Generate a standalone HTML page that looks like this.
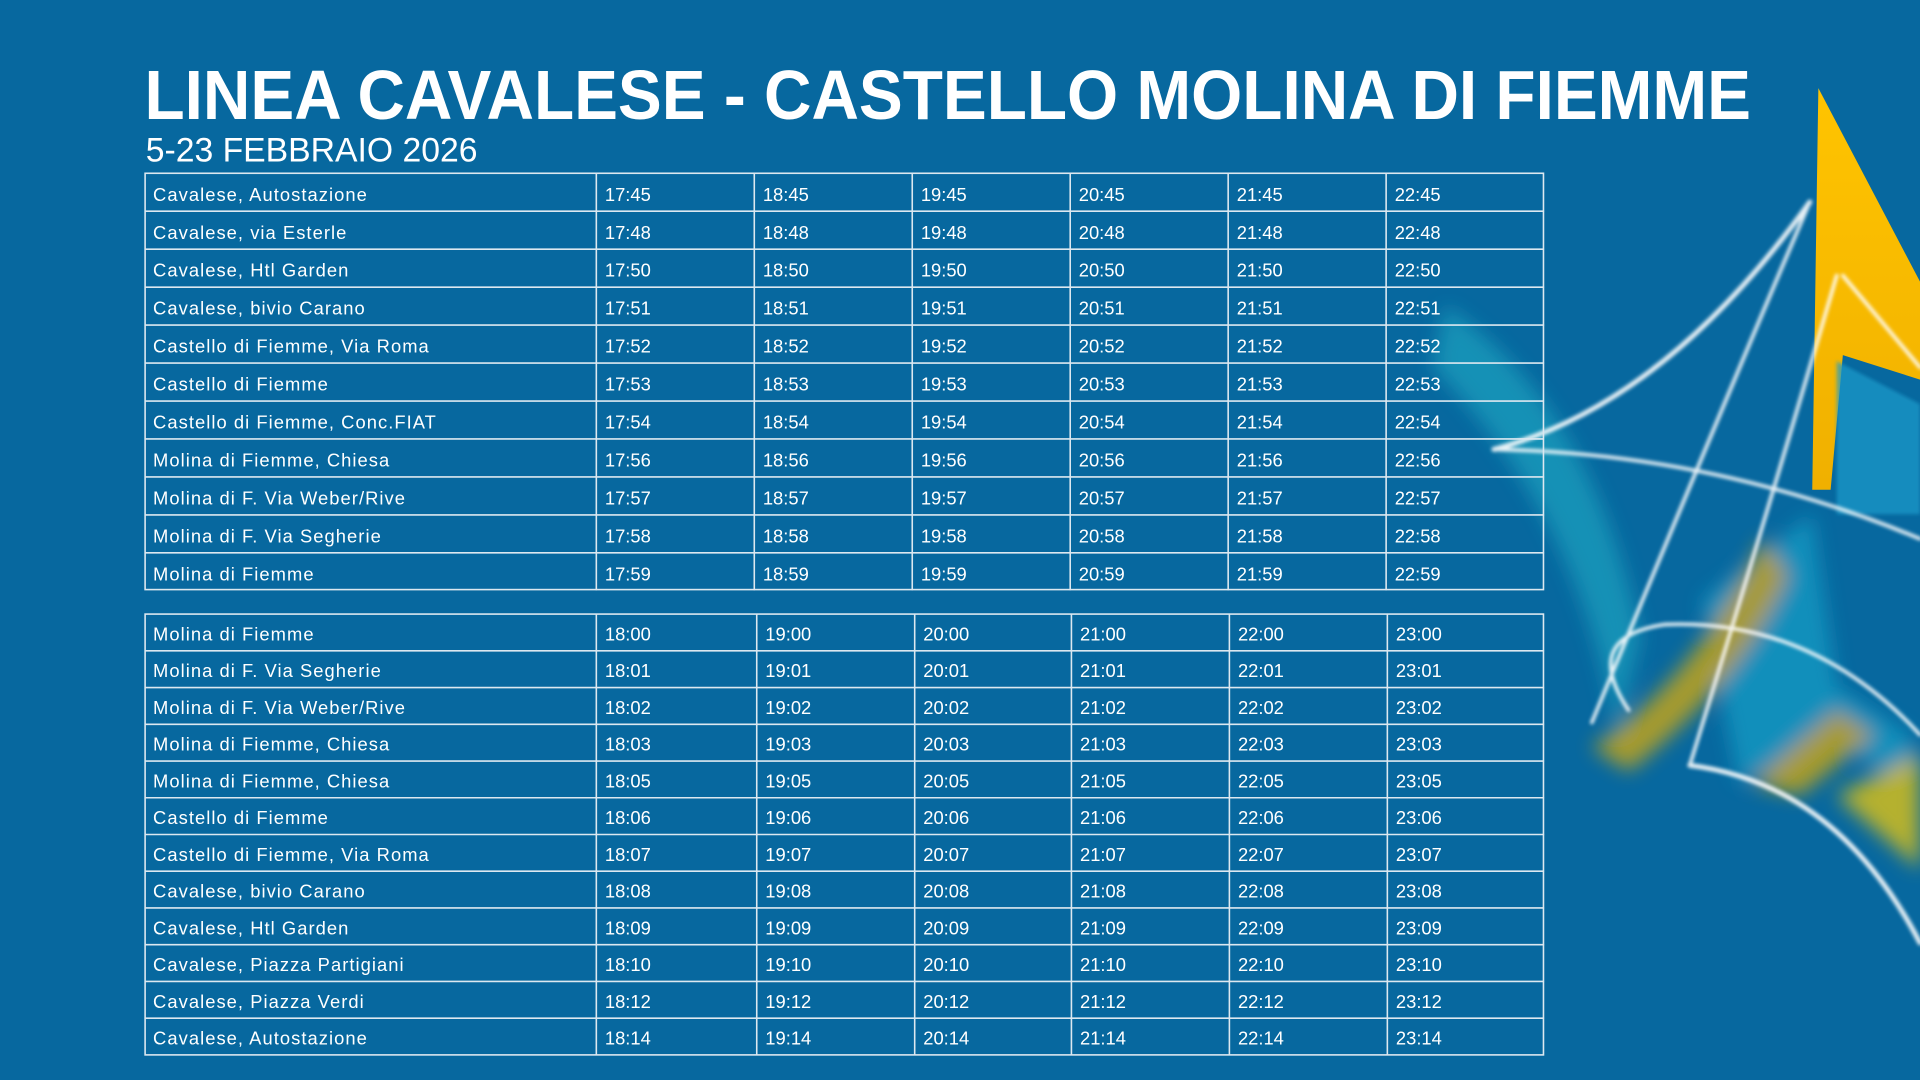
<!DOCTYPE html>
<html><head><meta charset="utf-8"><style>
html,body{margin:0;padding:0;width:1920px;height:1080px;overflow:hidden;background:#07689f}
svg{display:block}
text{font-family:"Liberation Sans",sans-serif;fill:#fff}
.t{font-size:15px}
text[x="125"]{letter-spacing:0.85px}
</style></head><body>
<svg width="1920" height="1080" viewBox="0 0 1568 882" preserveAspectRatio="none">
<defs>
<filter id="b"><feGaussianBlur stdDeviation="8"/></filter>
<filter id="b2"><feGaussianBlur stdDeviation="1.5"/></filter>
<linearGradient id="y" x1="0" y1="0" x2="0" y2="1"><stop offset="0" stop-color="#ffc400"/><stop offset="1" stop-color="#f0b000"/></linearGradient>
</defs>
<rect width="1568" height="882" fill="#07689f"/>
<g filter="url(#b)" opacity="0.7">
<path d="M1180 250 Q1300 330 1340 520 L1320 600 Q1290 420 1170 300Z" fill="#1aa3c0"/>
<path d="M1390 490 L1480 420 L1500 560 L1560 600 L1568 650 L1490 600 L1420 640Z" fill="#15a0c8"/>
<path d="M1300 610 Q1380 560 1440 440 L1460 470 Q1420 560 1330 630Z" fill="#e8b000"/>
<path d="M1430 640 L1500 580 L1530 600 L1470 650Z" fill="#e8b000"/>
<path d="M1500 650 L1568 615 L1568 710 Z" fill="#ffd000"/>
</g>
<path d="M1485 72 L1568 230 L1568 310 L1505 290 L1495 400 L1480 400Z" fill="url(#y)"/>
<path d="M1500 295 L1568 330 L1568 420 L1500 420Z" fill="#1a9ccc" opacity="0.7" filter="url(#b2)"/>
<g fill="none" stroke="#fff" stroke-linecap="round" filter="url(#b2)" opacity="0.9">
<path d="M1220 367 Q1360 330 1478 165" stroke-width="4"/>
<path d="M1478 165 Q1420 300 1300 590" stroke-width="3"/>
<path d="M1220 367 Q1400 370 1568 440" stroke-width="3"/>
<path d="M1500 225 Q1440 430 1380 625" stroke-width="3"/>
<path d="M1380 625 Q1500 640 1568 770" stroke-width="4"/>
<path d="M1330 580 Q1290 520 1360 510 Q1480 505 1568 600" stroke-width="3"/>
<path d="M1505 225 L1568 300" stroke-width="3"/>
</g>
<text x="118" y="97" font-size="57" font-weight="bold" textLength="1312" lengthAdjust="spacingAndGlyphs">LINEA CAVALESE - CASTELLO MOLINA DI FIEMME</text>
<text x="119" y="132" font-size="28" textLength="271" lengthAdjust="spacingAndGlyphs">5-23 FEBBRAIO 2026</text>
<g fill="none" stroke="#dce8f0" stroke-width="1.3">
<rect x="118.5" y="141.5" width="1142" height="340"/>
<path d="M487 141V482M616 141V482M745 141V482M874 141V482M1003 141V482M1132 141V482"/>
<path d="M118 172.5H1261M118 203.5H1261M118 234.5H1261M118 265.5H1261M118 296.5H1261M118 327.5H1261M118 358.5H1261M118 389.5H1261M118 420.5H1261M118 451.5H1261"/>
<rect x="118.5" y="501.5" width="1142" height="360"/>
<path d="M487 501V862M618 501V862M747 501V862M875 501V862M1004 501V862M1133 501V862"/>
<path d="M118 531.5H1261M118 561.5H1261M118 591.5H1261M118 621.5H1261M118 651.5H1261M118 681.5H1261M118 711.5H1261M118 741.5H1261M118 771.5H1261M118 801.5H1261M118 831.5H1261"/>
</g>
<g class="t">
<text class="t" x="125" y="164">Cavalese, Autostazione</text><text class="t" x="494" y="164">17:45</text><text class="t" x="623" y="164">18:45</text><text class="t" x="752" y="164">19:45</text><text class="t" x="881" y="164">20:45</text><text class="t" x="1010" y="164">21:45</text><text class="t" x="1139" y="164">22:45</text>
<text class="t" x="125" y="195">Cavalese, via Esterle</text><text class="t" x="494" y="195">17:48</text><text class="t" x="623" y="195">18:48</text><text class="t" x="752" y="195">19:48</text><text class="t" x="881" y="195">20:48</text><text class="t" x="1010" y="195">21:48</text><text class="t" x="1139" y="195">22:48</text>
<text class="t" x="125" y="226">Cavalese, Htl Garden</text><text class="t" x="494" y="226">17:50</text><text class="t" x="623" y="226">18:50</text><text class="t" x="752" y="226">19:50</text><text class="t" x="881" y="226">20:50</text><text class="t" x="1010" y="226">21:50</text><text class="t" x="1139" y="226">22:50</text>
<text class="t" x="125" y="257">Cavalese, bivio Carano</text><text class="t" x="494" y="257">17:51</text><text class="t" x="623" y="257">18:51</text><text class="t" x="752" y="257">19:51</text><text class="t" x="881" y="257">20:51</text><text class="t" x="1010" y="257">21:51</text><text class="t" x="1139" y="257">22:51</text>
<text class="t" x="125" y="288">Castello di Fiemme, Via Roma</text><text class="t" x="494" y="288">17:52</text><text class="t" x="623" y="288">18:52</text><text class="t" x="752" y="288">19:52</text><text class="t" x="881" y="288">20:52</text><text class="t" x="1010" y="288">21:52</text><text class="t" x="1139" y="288">22:52</text>
<text class="t" x="125" y="319">Castello di Fiemme</text><text class="t" x="494" y="319">17:53</text><text class="t" x="623" y="319">18:53</text><text class="t" x="752" y="319">19:53</text><text class="t" x="881" y="319">20:53</text><text class="t" x="1010" y="319">21:53</text><text class="t" x="1139" y="319">22:53</text>
<text class="t" x="125" y="350">Castello di Fiemme, Conc.FIAT</text><text class="t" x="494" y="350">17:54</text><text class="t" x="623" y="350">18:54</text><text class="t" x="752" y="350">19:54</text><text class="t" x="881" y="350">20:54</text><text class="t" x="1010" y="350">21:54</text><text class="t" x="1139" y="350">22:54</text>
<text class="t" x="125" y="381">Molina di Fiemme, Chiesa</text><text class="t" x="494" y="381">17:56</text><text class="t" x="623" y="381">18:56</text><text class="t" x="752" y="381">19:56</text><text class="t" x="881" y="381">20:56</text><text class="t" x="1010" y="381">21:56</text><text class="t" x="1139" y="381">22:56</text>
<text class="t" x="125" y="412">Molina di F. Via Weber/Rive</text><text class="t" x="494" y="412">17:57</text><text class="t" x="623" y="412">18:57</text><text class="t" x="752" y="412">19:57</text><text class="t" x="881" y="412">20:57</text><text class="t" x="1010" y="412">21:57</text><text class="t" x="1139" y="412">22:57</text>
<text class="t" x="125" y="443">Molina di F. Via Segherie</text><text class="t" x="494" y="443">17:58</text><text class="t" x="623" y="443">18:58</text><text class="t" x="752" y="443">19:58</text><text class="t" x="881" y="443">20:58</text><text class="t" x="1010" y="443">21:58</text><text class="t" x="1139" y="443">22:58</text>
<text class="t" x="125" y="474">Molina di Fiemme</text><text class="t" x="494" y="474">17:59</text><text class="t" x="623" y="474">18:59</text><text class="t" x="752" y="474">19:59</text><text class="t" x="881" y="474">20:59</text><text class="t" x="1010" y="474">21:59</text><text class="t" x="1139" y="474">22:59</text>

<text class="t" x="125" y="523">Molina di Fiemme</text><text class="t" x="494" y="523">18:00</text><text class="t" x="625" y="523">19:00</text><text class="t" x="754" y="523">20:00</text><text class="t" x="882" y="523">21:00</text><text class="t" x="1011" y="523">22:00</text><text class="t" x="1140" y="523">23:00</text>
<text class="t" x="125" y="553">Molina di F. Via Segherie</text><text class="t" x="494" y="553">18:01</text><text class="t" x="625" y="553">19:01</text><text class="t" x="754" y="553">20:01</text><text class="t" x="882" y="553">21:01</text><text class="t" x="1011" y="553">22:01</text><text class="t" x="1140" y="553">23:01</text>
<text class="t" x="125" y="583">Molina di F. Via Weber/Rive</text><text class="t" x="494" y="583">18:02</text><text class="t" x="625" y="583">19:02</text><text class="t" x="754" y="583">20:02</text><text class="t" x="882" y="583">21:02</text><text class="t" x="1011" y="583">22:02</text><text class="t" x="1140" y="583">23:02</text>
<text class="t" x="125" y="613">Molina di Fiemme, Chiesa</text><text class="t" x="494" y="613">18:03</text><text class="t" x="625" y="613">19:03</text><text class="t" x="754" y="613">20:03</text><text class="t" x="882" y="613">21:03</text><text class="t" x="1011" y="613">22:03</text><text class="t" x="1140" y="613">23:03</text>
<text class="t" x="125" y="643">Molina di Fiemme, Chiesa</text><text class="t" x="494" y="643">18:05</text><text class="t" x="625" y="643">19:05</text><text class="t" x="754" y="643">20:05</text><text class="t" x="882" y="643">21:05</text><text class="t" x="1011" y="643">22:05</text><text class="t" x="1140" y="643">23:05</text>
<text class="t" x="125" y="673">Castello di Fiemme</text><text class="t" x="494" y="673">18:06</text><text class="t" x="625" y="673">19:06</text><text class="t" x="754" y="673">20:06</text><text class="t" x="882" y="673">21:06</text><text class="t" x="1011" y="673">22:06</text><text class="t" x="1140" y="673">23:06</text>
<text class="t" x="125" y="703">Castello di Fiemme, Via Roma</text><text class="t" x="494" y="703">18:07</text><text class="t" x="625" y="703">19:07</text><text class="t" x="754" y="703">20:07</text><text class="t" x="882" y="703">21:07</text><text class="t" x="1011" y="703">22:07</text><text class="t" x="1140" y="703">23:07</text>
<text class="t" x="125" y="733">Cavalese, bivio Carano</text><text class="t" x="494" y="733">18:08</text><text class="t" x="625" y="733">19:08</text><text class="t" x="754" y="733">20:08</text><text class="t" x="882" y="733">21:08</text><text class="t" x="1011" y="733">22:08</text><text class="t" x="1140" y="733">23:08</text>
<text class="t" x="125" y="763">Cavalese, Htl Garden</text><text class="t" x="494" y="763">18:09</text><text class="t" x="625" y="763">19:09</text><text class="t" x="754" y="763">20:09</text><text class="t" x="882" y="763">21:09</text><text class="t" x="1011" y="763">22:09</text><text class="t" x="1140" y="763">23:09</text>
<text class="t" x="125" y="793">Cavalese, Piazza Partigiani</text><text class="t" x="494" y="793">18:10</text><text class="t" x="625" y="793">19:10</text><text class="t" x="754" y="793">20:10</text><text class="t" x="882" y="793">21:10</text><text class="t" x="1011" y="793">22:10</text><text class="t" x="1140" y="793">23:10</text>
<text class="t" x="125" y="823">Cavalese, Piazza Verdi</text><text class="t" x="494" y="823">18:12</text><text class="t" x="625" y="823">19:12</text><text class="t" x="754" y="823">20:12</text><text class="t" x="882" y="823">21:12</text><text class="t" x="1011" y="823">22:12</text><text class="t" x="1140" y="823">23:12</text>
<text class="t" x="125" y="853">Cavalese, Autostazione</text><text class="t" x="494" y="853">18:14</text><text class="t" x="625" y="853">19:14</text><text class="t" x="754" y="853">20:14</text><text class="t" x="882" y="853">21:14</text><text class="t" x="1011" y="853">22:14</text><text class="t" x="1140" y="853">23:14</text>
</g>
</svg>
</body></html>
